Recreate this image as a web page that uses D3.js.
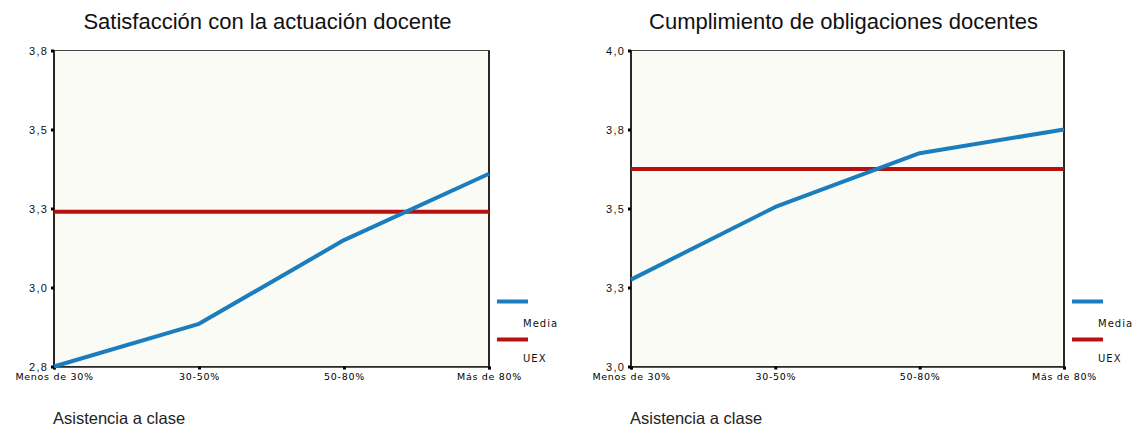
<!DOCTYPE html>
<html>
<head>
<meta charset="utf-8">
<script src="https://cdn.jsdelivr.net/npm/d3@7"></script>
<style>
	body { margin: 0; background: #fff; }
	svg { display: block; font-family: "Liberation Sans", Arial, sans-serif; }
</style>
</head>
<body>
<svg></svg>
<script>
const categories = ["Menos de 30%", "30-50%", "50-80%", "Más de 80%"];

const titles = ["Satisfacción con la actuación docente", "Cumplimiento de obligaciones docentes"];

const satisfMedia = [2.75, 2.885, 3.15, 3.36];
const satisfUEX = 3.24;
const satisfTicks = [2.75, 3.0, 3.25, 3.5, 3.75];
const satisfTickLabels = ["2,8", "3,0", "3,3", "3,5", "3,8"];

const cumplMedia = [3.275, 3.505, 3.675, 3.75];
const cumplUEX = 3.625;
const cumplTicks = [3.0, 3.25, 3.5, 3.75, 4.0];
const cumplTickLabels = ["3,0", "3,3", "3,5", "3,8", "4,0"];

const legendLabels = ["Media", "UEX"];
const xTitle = "Asistencia a clase";

const width = 1137;
const height = 427;
const blue = "#1a7dbd";
const red = "#b8100f";

const svg = d3.select('svg')
	.attr('width', width)
	.attr('height', height);

const panels = [
	{left: 54, right: 489, title: titles[0], media: satisfMedia, uex: satisfUEX, ticks: satisfTicks, labels: satisfTickLabels},
	{left: 631, right: 1064, title: titles[1], media: cumplMedia, uex: cumplUEX, ticks: cumplTicks, labels: cumplTickLabels},
];
const plotTop = 50.5, plotBottom = 366.5;

panels.forEach(p => {
	const g = svg.append('g');

	const x = d3.scalePoint().domain(categories).range([p.left, p.right]);
	const y = d3.scaleLinear().domain(d3.extent(p.ticks)).range([plotBottom, plotTop]);

	// plot background + frame
	g.append('rect')
		.attr('x', p.left).attr('y', plotTop)
		.attr('width', p.right - p.left).attr('height', plotBottom - plotTop)
		.attr('fill', '#fbfbf6')
		.attr('stroke', '#444')
		.attr('stroke-width', 1);
	g.append('line')
		.attr('x1', p.right).attr('x2', p.right)
		.attr('y1', plotTop).attr('y2', plotBottom)
		.attr('stroke', '#000').attr('stroke-width', 1.5);
	g.append('line')
		.attr('x1', p.left).attr('x2', p.left)
		.attr('y1', plotTop).attr('y2', plotBottom)
		.attr('stroke', '#000').attr('stroke-width', 1.5);

	// y axis
	const yAxis = d3.axisLeft(y)
		.tickValues(p.ticks)
		.tickFormat((d, i) => p.labels[i])
		.tickSize(3)
		.tickPadding(3);
	const ya = g.append('g')
		.attr('transform', `translate(${p.left},0)`)
		.call(yAxis);
	ya.select('.domain').remove();
	ya.selectAll('.tick line').attr('stroke', '#000').attr('stroke-width', 3);
	ya.selectAll('.tick text')
		.attr('font-size', 11)
		.attr('font-family', '"Liberation Sans", Arial, sans-serif')
		.attr('letter-spacing', 1.2)
		.attr('fill', '#111');

	// x axis
	const xAxis = d3.axisBottom(x)
		.tickSize(3)
		.tickPadding(4);
	const xa = g.append('g')
		.attr('transform', `translate(0,${plotBottom})`)
		.call(xAxis);
	xa.select('.domain').attr('stroke', '#222').attr('stroke-width', 1.5);
	xa.selectAll('.tick line').attr('stroke', '#000').attr('stroke-width', 3);
	xa.selectAll('.tick text')
		.attr('font-size', 9.5)
		.attr('font-family', '"DejaVu Sans", sans-serif')
		.attr('letter-spacing', 0.7)
		.attr('fill', '#000');

	// UEX reference
	g.append('line')
		.attr('x1', p.left).attr('x2', p.right)
		.attr('y1', y(p.uex)).attr('y2', y(p.uex))
		.attr('stroke', red).attr('stroke-width', 4);

	// Media line
	const line = d3.line()
		.x((d, i) => x(categories[i]))
		.y(d => y(d));
	g.append('path')
		.datum(p.media)
		.attr('d', line)
		.attr('fill', 'none')
		.attr('stroke', blue)
		.attr('stroke-width', 4)
		.attr('stroke-linejoin', 'round');

	// title
	g.append('text')
		.attr('x', (p.left + p.right) / 2 - 4)
		.attr('y', 29)
		.attr('text-anchor', 'middle')
		.attr('font-size', 22)
		.attr('fill', '#111')
		.text(p.title);

	// x title
	g.append('text')
		.attr('x', p.left - 1)
		.attr('y', 424)
		.attr('font-size', 16.5)
		.attr('fill', '#222')
		.text(xTitle);

	// legend
	const lx = p.right + 8;
	[blue, red].forEach((c, i) => {
		g.append('line')
			.attr('x1', lx).attr('x2', lx + 31)
			.attr('y1', 301.5 + i * 38).attr('y2', 301.5 + i * 38)
			.attr('stroke', c).attr('stroke-width', 4);
		g.append('text')
			.attr('x', lx + 26)
			.attr('y', 327 + i * 35)
			.attr('font-size', 10)
			.attr('font-family', '"DejaVu Sans", sans-serif')
			.attr('letter-spacing', 1)
			.attr('fill', '#111')
			.text(legendLabels[i]);
	});
});
</script>
</body>
</html>
